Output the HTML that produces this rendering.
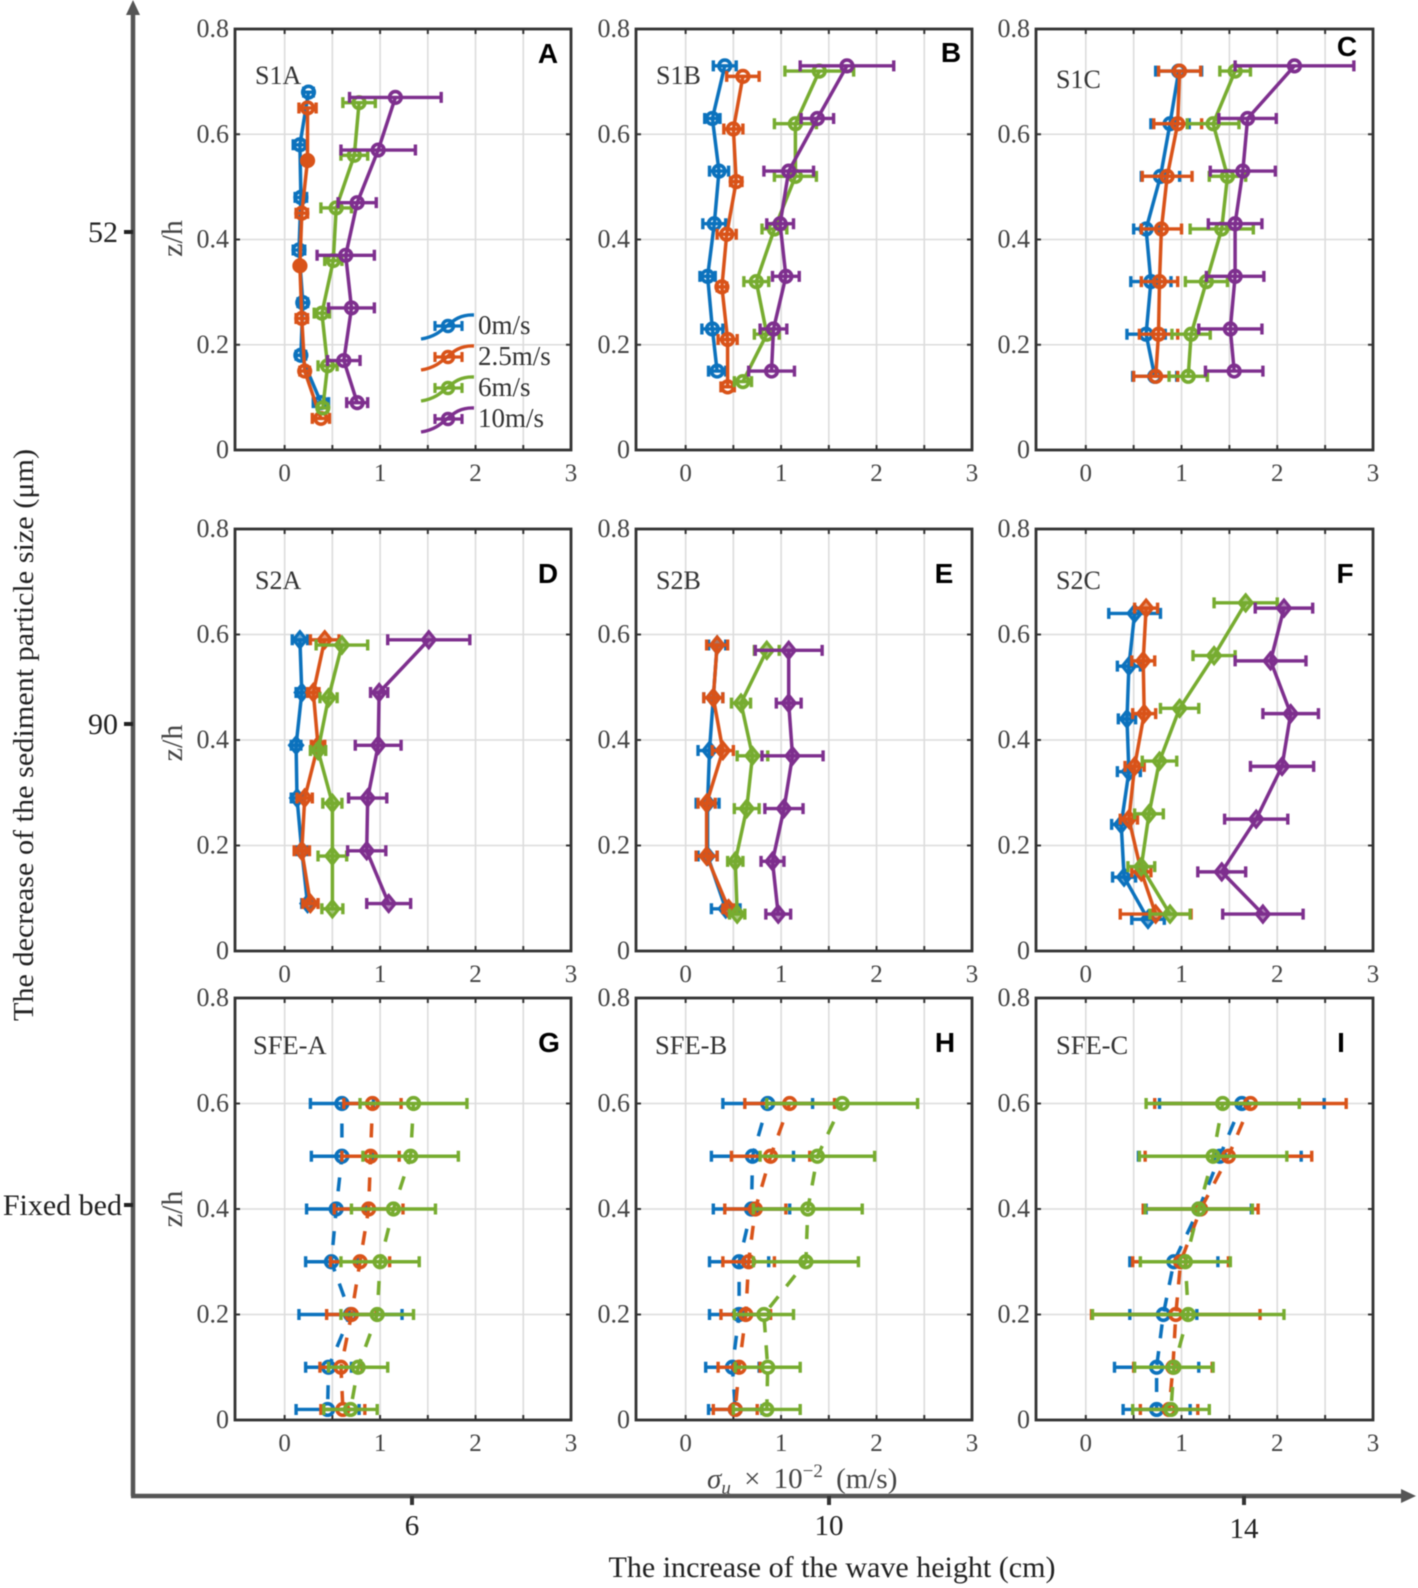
<!DOCTYPE html>
<html lang="en">
<head>
<meta charset="utf-8">
<title>Velocity fluctuation profiles</title>
<style>
html,body{margin:0;padding:0;background:#fff;}
body{width:1418px;height:1588px;overflow:hidden;}
#fig{display:block;filter:blur(0.6px);}
text{font-family:"Liberation Serif",serif;}
</style>
</head>
<body>
<svg id="fig" xmlns="http://www.w3.org/2000/svg" width="1418" height="1588" viewBox="0 0 1418 1588"></svg>
<script>
// ---- data: z/h, sigma_u and half error for each series, by panel ----
const xTicks=[0,1,2,3];
const xGrid=[0,0.5,1,1.5,2,2.5,3];
const yTicks=[0,0.2,0.4,0.6,0.8];
const yTickLabels=['0','0.2','0.4','0.6','0.8'];
const speeds=['0m/s','2.5m/s','6m/s','10m/s'];
const colors=['#0c72bd','#d95319','#77ac30','#7e2f8e'];
const sizeLabels=['52','90','Fixed bed'];
const waveLabels=['6','10','14'];

const A0z=[.68,.58,.48,.38,.28,.18,.09], A0x=[.25,.16,.17,.15,.19,.17,.38], A0e=[.05,.07,.06,.06,.05,.05,.08];
const A1z=[.65,.55,.45,.35,.25,.15,.06], A1x=[.24,.24,.18,.16,.18,.21,.38], A1e=[.09,.03,.06,.03,.06,.05,.09];
const A2z=[.66,.56,.46,.36,.26,.16,.08], A2x=[.78,.73,.54,.51,.39,.45,.40], A2e=[.17,.14,.16,.09,.08,.1,.05];
const A3z=[.67,.57,.47,.37,.27,.17,.09], A3x=[1.16,.98,.76,.64,.70,.62,.76], A3e=[.48,.39,.2,.3,.24,.17,.11];

const B0z=[.73,.63,.53,.43,.33,.23,.15], B0x=[.41,.28,.35,.30,.23,.28,.33], B0e=[.12,.08,.1,.12,.08,.11,.09];
const B1z=[.71,.61,.51,.41,.31,.21,.12], B1x=[.60,.50,.53,.43,.38,.44,.44], B1e=[.17,.1,.06,.1,.05,.1,.07];
const B2z=[.72,.62,.52,.42,.32,.22,.13], B2x=[1.40,1.15,1.15,.93,.74,.85,.60], B2e=[.36,.22,.22,.13,.13,.13,.09];
const B3z=[.73,.63,.53,.43,.33,.23,.15], B3x=[1.69,1.38,1.08,.99,1.05,.92,.90], B3e=[.49,.17,.26,.14,.14,.14,.24];

const C0z=[.72,.62,.52,.42,.32,.22,.14], C0x=[.97,.88,.78,.63,.68,.63,.72], C0e=[.24,.2,.2,.13,.21,.2,.23];
const C1z=[.72,.62,.52,.42,.32,.22,.14], C1x=[.98,.96,.85,.79,.77,.76,.73], C1e=[.22,.25,.26,.21,.19,.2,.23];
const C2z=[.72,.62,.52,.42,.32,.22,.14], C2x=[1.56,1.33,1.48,1.42,1.26,1.10,1.07], C2e=[.16,.27,.19,.33,.22,.2,.2];
const C3z=[.73,.63,.53,.43,.33,.23,.15], C3x=[2.18,1.69,1.64,1.56,1.56,1.51,1.55], C3e=[.62,.3,.34,.28,.3,.33,.3];

const D0z=[.59,.49,.39,.29,.19,.09], D0x=[.16,.18,.12,.13,.18,.24], D0e=[.08,.06,.05,.06,.05,.06];
const D1z=[.59,.49,.39,.29,.19,.09], D1x=[.42,.30,.35,.21,.18,.27], D1e=[.15,.06,.07,.08,.08,.08];
const D2z=[.58,.48,.38,.28,.18,.08], D2x=[.60,.46,.35,.50,.50,.50], D2e=[.27,.09,.08,.1,.15,.11];
const D3z=[.59,.49,.39,.29,.19,.09], D3x=[1.51,.99,.98,.87,.86,1.09], D3e=[.43,.09,.24,.2,.2,.23];

const E0z=[.58,.48,.38,.28,.18,.08], E0x=[.33,.29,.25,.23,.23,.42], E0e=[.09,.1,.12,.12,.1,.15];
const E1z=[.58,.48,.38,.28,.18,.08], E1x=[.33,.29,.39,.22,.22,.45], E1e=[.11,.1,.11,.09,.11,.06];
const E2z=[.57,.47,.37,.27,.17,.07], E2x=[.85,.58,.70,.64,.52,.54], E2e=[.13,.1,.16,.13,.08,.08];
const E3z=[.57,.47,.37,.27,.17,.07], E3x=[1.08,1.08,1.12,1.03,.91,.97], E3e=[.35,.13,.32,.2,.12,.13];

const F0z=[.64,.54,.44,.34,.24,.14,.06], F0x=[.51,.45,.43,.45,.37,.40,.65], F0e=[.27,.12,.09,.12,.1,.12,.17];
const F1z=[.65,.55,.45,.35,.25,.15,.07], F1x=[.63,.60,.61,.51,.45,.58,.73], F1e=[.12,.12,.12,.1,.09,.1,.37];
const F2z=[.66,.56,.46,.36,.26,.16,.07], F2x=[1.67,1.34,.98,.77,.66,.58,.88], F2e=[.33,.22,.2,.18,.15,.14,.21];
const F3z=[.65,.55,.45,.35,.25,.15,.07], F3x=[2.07,1.93,2.14,2.05,1.78,1.42,1.85], F3e=[.3,.37,.29,.33,.33,.25,.42];

const fixedZ=[.6,.5,.4,.3,.2,.1,.02];

const G0x=[.60,.60,.54,.49,.69,.46,.45], G0e=[.33,.32,.31,.27,.54,.24,.33];
const G1x=[.92,.90,.88,.79,.70,.59,.61], G1e=[.3,.3,.36,.31,.26,.22,.23];
const G2x=[1.35,1.32,1.14,1.0,.97,.77,.69], G2e=[.56,.5,.44,.41,.38,.31,.28];

const H0x=[.86,.70,.69,.56,.56,.49,.52], H0e=[.47,.43,.4,.31,.31,.28,.28];
const H1x=[1.09,.89,.73,.66,.63,.56,.52], H1e=[.47,.41,.32,.27,.26,.22,.23];
const H2x=[1.64,1.38,1.28,1.26,.82,.86,.85], H2e=[.79,.6,.57,.55,.31,.34,.35];

const I0x=[1.63,1.4,1.18,.92,.81,.74,.74], I0e=[.86,.85,.55,.46,.35,.44,.35];
const I1x=[1.72,1.49,1.2,.99,.94,.91,.87], I1e=[1.0,.87,.6,.5,.88,.41,.3];
const I2x=[1.43,1.33,1.18,1.04,1.07,.92,.89], I2e=[.8,.77,.56,.47,1.0,.41,.4];

const panels=[
 {letter:'A',title:'S1A',col:0,row:0,marker:'circle',dashed:false,tx:255,ty:76,lx:548,ly:53,series:[[A0z,A0x,A0e],[A1z,A1x,A1e],[A2z,A2x,A2e],[A3z,A3x,A3e]]},
 {letter:'B',title:'S1B',col:1,row:0,marker:'circle',dashed:false,tx:656,ty:76,lx:951,ly:52,series:[[B0z,B0x,B0e],[B1z,B1x,B1e],[B2z,B2x,B2e],[B3z,B3x,B3e]]},
 {letter:'C',title:'S1C',col:2,row:0,marker:'circle',dashed:false,tx:1056,ty:80,lx:1347,ly:46,series:[[C0z,C0x,C0e],[C1z,C1x,C1e],[C2z,C2x,C2e],[C3z,C3x,C3e]]},
 {letter:'D',title:'S2A',col:0,row:1,marker:'diamond',dashed:false,tx:255,ty:581,lx:548,ly:573,series:[[D0z,D0x,D0e],[D1z,D1x,D1e],[D2z,D2x,D2e],[D3z,D3x,D3e]]},
 {letter:'E',title:'S2B',col:1,row:1,marker:'diamond',dashed:false,tx:656,ty:581,lx:944,ly:573,series:[[E0z,E0x,E0e],[E1z,E1x,E1e],[E2z,E2x,E2e],[E3z,E3x,E3e]]},
 {letter:'F',title:'S2C',col:2,row:1,marker:'diamond',dashed:false,tx:1056,ty:581,lx:1345,ly:573,series:[[F0z,F0x,F0e],[F1z,F1x,F1e],[F2z,F2x,F2e],[F3z,F3x,F3e]]},
 {letter:'G',title:'SFE-A',col:0,row:2,marker:'circle',dashed:true,tx:253,ty:1046,lx:549,ly:1042,series:[[fixedZ,G0x,G0e],[fixedZ,G1x,G1e],[fixedZ,G2x,G2e]]},
 {letter:'H',title:'SFE-B',col:1,row:2,marker:'circle',dashed:true,tx:655,ty:1046,lx:945,ly:1042,series:[[fixedZ,H0x,H0e],[fixedZ,H1x,H1e],[fixedZ,H2x,H2e]]},
 {letter:'I',title:'SFE-C',col:2,row:2,marker:'circle',dashed:true,tx:1056,ty:1046,lx:1341,ly:1042,series:[[fixedZ,I0x,I0e],[fixedZ,I1x,I1e],[fixedZ,I2x,I2e]]}
];

// ---- layout ----
const colX=[[235,571],[636,972],[1036,1373]];
const rowY=[[29,450],[529,951],[998,1420]];
const xMin=-0.52,xMax=3,yMin=0,yMax=0.8;
const NS='http://www.w3.org/2000/svg';
const svg=document.getElementById('fig');

function mk(parent,tag,attrs,txt){
  const el=document.createElementNS(NS,tag);
  for(const k in attrs) el.setAttribute(k,attrs[k]);
  if(txt!==undefined) el.textContent=txt;
  parent.appendChild(el);
  return el;
}
function xScale(p,v){const c=colX[p.col];return c[0]+(v-xMin)/(xMax-xMin)*(c[1]-c[0]);}
function yScale(p,v){const r=rowY[p.row];return r[1]-(v-yMin)/(yMax-yMin)*(r[1]-r[0]);}

function drawMarker(g,kind,cx,cy,color){
  let m;
  if(kind==='circle'){
    m=mk(g,'circle',{cx:cx,cy:cy,r:5.8,fill:'none',stroke:color,'stroke-width':3.6});
  }else{
    const a=8,b=6.5;
    m=mk(g,'polygon',{points:`${cx},${cy-a} ${cx+b},${cy} ${cx},${cy+a} ${cx-b},${cy}`,fill:color,'fill-opacity':0.6,stroke:color,'stroke-width':3.2});
  }
  
  
}

function drawPanel(p){
  const g=mk(svg,'g',{});
  
  
  const c=colX[p.col],r=rowY[p.row];

  xGrid.forEach(v=>{
    const x=xScale(p,v);
    const gl=mk(g,'line',{x1:x,x2:x,y1:r[0],y2:r[1],stroke:'#dcdcdc','stroke-width':1.6});
    
    
    const t1=mk(g,'line',{x1:x,x2:x,y1:r[0],y2:r[0]+5,stroke:'#333','stroke-width':2});
    
    
    const t2=mk(g,'line',{x1:x,x2:x,y1:r[1],y2:r[1]-5,stroke:'#333','stroke-width':2});
    
    
  });
  yTicks.forEach((v,i)=>{
    const y=yScale(p,v);
    const gl=mk(g,'line',{x1:c[0],x2:c[1],y1:y,y2:y,stroke:'#dcdcdc','stroke-width':1.6});
    
    
    const t1=mk(g,'line',{x1:c[0],x2:c[0]+5,y1:y,y2:y,stroke:'#333','stroke-width':2});
    
    
    const t2=mk(g,'line',{x1:c[1],x2:c[1]-5,y1:y,y2:y,stroke:'#333','stroke-width':2});
    
    
    const lab=mk(g,'text',{x:c[0]-6,y:y+8,'text-anchor':'end','font-size':26,fill:'#444'},yTickLabels[i]);
    
    
  });
  xTicks.forEach(v=>{
    const lab=mk(g,'text',{x:xScale(p,v),y:r[1]+31,'text-anchor':'middle','font-size':25,fill:'#444'},String(v));
    
    
  });

  const box=mk(g,'rect',{x:c[0],y:r[0],width:c[1]-c[0],height:r[1]-r[0],fill:'none',stroke:'#333','stroke-width':2.8});
  
  

  p.series.forEach((s,si)=>{
    const color=colors[si];
    const sg=mk(g,'g',{});
    
    
    const zs=s[0],xs=s[1],es=s[2];
    const pts=xs.map((v,i)=>xScale(p,v).toFixed(1)+','+yScale(p,zs[i]).toFixed(1)).join(' ');
    const attrs={points:pts,fill:'none',stroke:color,'stroke-width':3.5,'stroke-linejoin':'round'};
    if(p.dashed){
      attrs['stroke-dasharray']='14 13';
      attrs['stroke-dashoffset']='7';
    }
    const pl=mk(sg,'polyline',attrs);
    
    
    xs.forEach((v,i)=>{
      const y=yScale(p,zs[i]),x0=xScale(p,v-es[i]),x1=xScale(p,v+es[i]);
      const b=mk(sg,'path',{d:`M${x0} ${y}H${x1}M${x0} ${y-5.5}V${y+5.5}M${x1} ${y-5.5}V${y+5.5}`,fill:'none',stroke:color,'stroke-width':3.4});
      
      
      drawMarker(sg,p.marker,xScale(p,v),y,color);
    });
  });

  const ti=mk(g,'text',{x:p.tx,y:p.ty+8,'font-size':p.row===2?26.5:26,fill:'#333'},p.title);
  
  
  const le=mk(g,'text',{x:p.lx,y:p.ly+10,'text-anchor':'middle','font-size':28,'font-weight':'bold',fill:'#000',style:'font-family:"Liberation Sans",sans-serif'},p.letter);
  
  
  const yc=(r[0]+r[1])/2+(p.row===2?-3:0);
  if(p.col===0){
    const yl=mk(g,'text',{x:0,y:0,transform:`translate(182,${yc+(p.row===0?-1:3)}) rotate(-90)`,'text-anchor':'middle','font-size':30,fill:'#444'},'z/h');
    
    
  }
  if(p.letter==='A'){
    const lg=mk(g,'g',{});
    
    
    speeds.forEach((name,i)=>{
      const ey=326+i*31;
      const eg=mk(lg,'g',{});
      
      
      const col=colors[i];
      mk(eg,'path',{d:`M421 ${ey+13}C448 ${ey+9} 448 ${ey-12} 474 ${ey-11}`,fill:'none',stroke:col,'stroke-width':3.4});
      mk(eg,'path',{d:`M435 ${ey}H462M435 ${ey-5}V${ey+5}M462 ${ey-5}V${ey+5}`,fill:'none',stroke:col,'stroke-width':3.2});
      mk(eg,'circle',{cx:448,cy:ey,r:5.5,fill:'none',stroke:col,'stroke-width':3.4});
      mk(eg,'text',{x:478,y:ey+8,'font-size':27,fill:'#333'},name);
    });
  }
}
panels.forEach(drawPanel);

// ---- outer axes ----
const outer=mk(svg,'g',{});


const axisColor='#555';
const vAxis=mk(outer,'path',{d:'M133 1496V12',fill:'none',stroke:axisColor,'stroke-width':4.5});


const vHead=mk(outer,'polygon',{points:'133,0 126,15 140,15',fill:axisColor});


const hAxis=mk(outer,'path',{d:'M131 1496H1405',fill:'none',stroke:axisColor,'stroke-width':4.5});


const hHead=mk(outer,'polygon',{points:'1416,1496 1401,1489 1401,1503',fill:axisColor});



const sizeTickY=[232,724,1205];
sizeLabels.forEach((s,i)=>{
  const y=sizeTickY[i];
  const t=mk(outer,'line',{x1:124,x2:133,y1:y,y2:y,stroke:'#222','stroke-width':4});
  
  
  const l=mk(outer,'text',{x:i===2?122:118,y:y+10,'text-anchor':'end','font-size':30,fill:'#222'},s);
  
  
});
const waveTickX=[412,829,1244];
waveLabels.forEach((s,i)=>{
  const x=waveTickX[i];
  const t=mk(outer,'line',{x1:x,x2:x,y1:1496,y2:1505,stroke:'#333','stroke-width':4});
  
  
  const l=mk(outer,'text',{x:x,y:i===2?1538:1535,'text-anchor':'middle','font-size':29,fill:'#222'},s);
  
  
});
</script>
<svg style="position:absolute;left:0;top:0;filter:blur(0.5px)" width="1418" height="1588" viewBox="0 0 1418 1588" xmlns="http://www.w3.org/2000/svg">
  <text transform="translate(33,735) rotate(-90)" text-anchor="middle" font-size="29" fill="#222" textLength="572" lengthAdjust="spacingAndGlyphs">The decrease of the sediment particle size (μm)</text>
  <text x="832" y="1577" text-anchor="middle" font-size="30" fill="#222" textLength="447" lengthAdjust="spacingAndGlyphs">The increase of the wave height (cm)</text>
  <text x="707" y="1488" font-size="29" fill="#444" style="word-spacing:6px"><tspan font-style="italic">σ</tspan><tspan font-style="italic" font-size="19" dy="6">u</tspan><tspan dy="-6"> × 10</tspan><tspan font-size="19" dy="-11">−2</tspan><tspan dy="11"> (m/s)</tspan></text>
</svg>
</body>
</html>
